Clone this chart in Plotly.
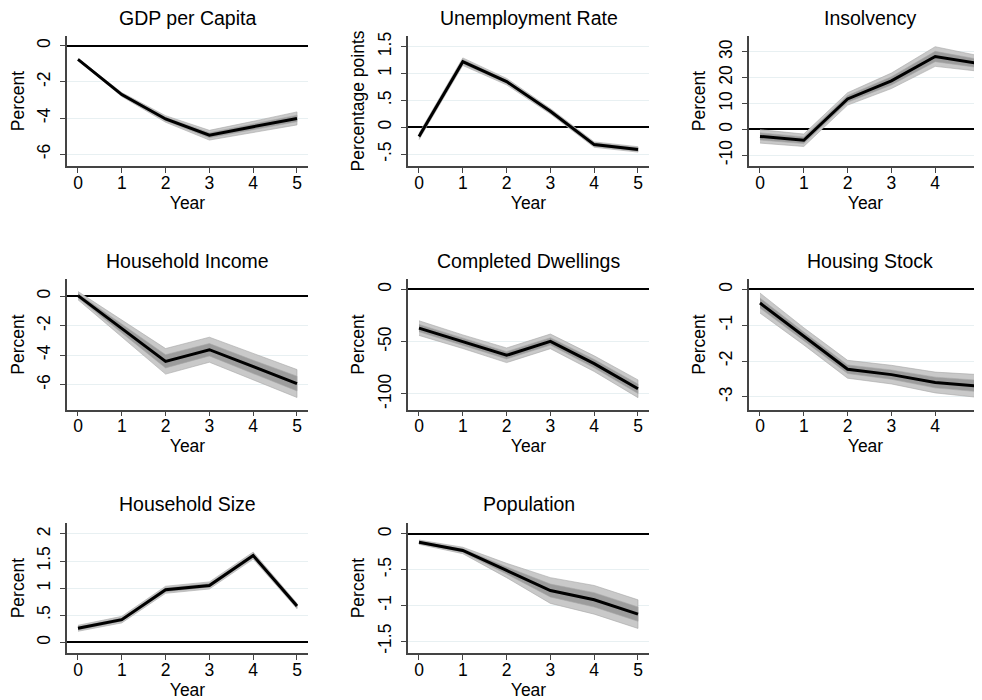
import plotly.graph_objects as go

# the page puts the figure 8 px in, so this size fills the window
W, H = 974, 692
FONT = "Liberation Sans, Arial, sans-serif"

years = [0, 1, 2, 3, 4, 5]

# point estimates and half-widths of the inner / outer confidence bands
gdp_mean = [-0.75, -2.70, -4.05, -4.95, -4.48, -4.02]
gdp_in = [0.03, 0.06, 0.10, 0.14, 0.15, 0.18]
gdp_out = [0.05, 0.11, 0.18, 0.27, 0.30, 0.36]

unemp_mean = [-0.17, 1.22, 0.85, 0.30, -0.32, -0.41]
unemp_in = [0.03, 0.04, 0.03, 0.03, 0.03, 0.03]
unemp_out = [0.06, 0.07, 0.06, 0.05, 0.05, 0.05]

insol_mean = [-2.7, -4.2, 11.8, 18.8, 28.2, 25.5]
insol_in = [1.4, 1.3, 1.3, 1.6, 2.0, 1.6]
insol_out = [2.6, 2.4, 2.4, 3.0, 3.8, 3.0]

hhinc_mean = [0.05, -2.20, -4.42, -3.63, -4.80, -5.93]
hhinc_in = [0.15, 0.30, 0.45, 0.42, 0.45, 0.50]
hhinc_out = [0.28, 0.58, 0.87, 0.85, 0.90, 0.95]

dwell_mean = [-37, -50, -63, -49.7, -71, -95]
dwell_in = [3.5, 3.5, 3.5, 3.5, 4.0, 4.5]
dwell_out = [7.0, 6.5, 7.0, 7.0, 7.5, 8.5]

stock_mean = [-0.38, -1.31, -2.23, -2.38, -2.60, -2.70]
stock_in = [0.14, 0.12, 0.12, 0.13, 0.15, 0.16]
stock_out = [0.28, 0.24, 0.25, 0.26, 0.29, 0.32]

hhsize_mean = [0.26, 0.42, 0.97, 1.05, 1.60, 0.67]
hhsize_in = [0.03, 0.03, 0.035, 0.035, 0.035, 0.03]
hhsize_out = [0.055, 0.06, 0.065, 0.065, 0.065, 0.05]

pop_mean = [-0.115, -0.23, -0.51, -0.79, -0.92, -1.12]
pop_in = [0.015, 0.025, 0.05, 0.09, 0.10, 0.10]
pop_out = [0.03, 0.045, 0.10, 0.18, 0.20, 0.20]

titles = ["GDP per Capita", "Unemployment Rate", "Insolvency",
          "Household Income", "Completed Dwellings", "Housing Stock",
          "Household Size", "Population"]
ylabels = ["Percent", "Percentage points", "Percent",
           "Percent", "Percent", "Percent",
           "Percent", "Percent"]

gdp_ticks = [-6, -4, -2, 0]
gdp_tick_text = ["-6", "-4", "-2", "0"]
unemp_ticks = [-0.5, 0, 0.5, 1, 1.5]
unemp_tick_text = ["-.5", "0", ".5", "1", "1.5"]
insol_ticks = [-10, 0, 10, 20, 30]
insol_tick_text = ["-10", "0", "10", "20", "30"]
hhinc_ticks = [-6, -4, -2, 0]
hhinc_tick_text = ["-6", "-4", "-2", "0"]
dwell_ticks = [-100, -50, 0]
dwell_tick_text = ["-100", "-50", "0"]
stock_ticks = [-3, -2, -1, 0]
stock_tick_text = ["-3", "-2", "-1", "0"]
hhsize_ticks = [0, 0.5, 1, 1.5, 2]
hhsize_tick_text = ["0", ".5", "1", "1.5", "2"]
pop_ticks = [-1.5, -1, -0.5, 0]
pop_tick_text = ["-1.5", "-1", "-.5", "0"]

panels = [
    (gdp_mean, gdp_in, gdp_out, gdp_ticks, gdp_tick_text, [-6.66, 0.55]),
    (unemp_mean, unemp_in, unemp_out, unemp_ticks, unemp_tick_text, [-0.72, 1.70]),
    (insol_mean, insol_in, insol_out, insol_ticks, insol_tick_text, [-14.2, 36.2]),
    (hhinc_mean, hhinc_in, hhinc_out, hhinc_ticks, hhinc_tick_text, [-7.71, 1.15]),
    (dwell_mean, dwell_in, dwell_out, dwell_ticks, dwell_tick_text, [-115, 9.5]),
    (stock_mean, stock_in, stock_out, stock_ticks, stock_tick_text, [-3.36, 0.28]),
    (hhsize_mean, hhsize_in, hhsize_out, hhsize_ticks, hhsize_tick_text, [-0.2, 2.2]),
    (pop_mean, pop_in, pop_out, pop_ticks, pop_tick_text, [-1.667, 0.153]),
]

# panel frames in pixels of the figure div; the last column runs off the edge
col_px = [(59, 300), (400, 641), (741, 974)]
row_px = [(24, 155), (269, 400), (514, 645)]
title_px = [6, 250, 495]


def band(x, mean, hw, color, ax):
    up = [m + h for m, h in zip(mean, hw)]
    lo = [m - h for m, h in zip(mean, hw)]
    return go.Scatter(x=x + x[::-1], y=up + lo[::-1], fill="toself",
                      fillcolor=color, line=dict(color="#a8a8a8", width=0.6),
                      mode="lines", hoverinfo="skip", showlegend=False,
                      xaxis="x" + ax, yaxis="y" + ax)


fig = go.Figure()
layout = {}
annotations = []

for i, (mean, hw_in, hw_out, ticks, tick_text, yr) in enumerate(panels):
    r, c = i // 3, i % 3
    ax = "" if i == 0 else str(i + 1)
    l_px, r_px = col_px[c]
    t_px, b_px = row_px[r]

    fig.add_trace(band(years, mean, hw_out, "#c9c9c9", ax))
    fig.add_trace(band(years, mean, hw_in, "#9c9c9c", ax))
    fig.add_trace(go.Scatter(x=years, y=mean, mode="lines",
                             line=dict(color="black", width=3),
                             showlegend=False, xaxis="x" + ax, yaxis="y" + ax))

    # 0 sits 11 px right of the y axis, 43.8 px per year
    xr = [-0.251, -0.251 + (r_px - l_px) / 43.8]
    layout["xaxis" + ax] = dict(
        domain=[l_px / W, r_px / W], anchor="y" + ax, range=xr,
        tickvals=years, ticks="outside", ticklen=5, tickwidth=1.3,
        tickcolor="#444", showline=True, linecolor="#444", linewidth=1.5,
        showgrid=False, zeroline=False,
        tickfont=dict(size=17.5, color="black"), ticklabelstandoff=-5,
        title=dict(text="Year", font=dict(size=17.5, color="black"), standoff=0),
    )
    layout["yaxis" + ax] = dict(
        domain=[1 - b_px / H, 1 - t_px / H], anchor="x" + ax, range=yr,
        tickvals=ticks, ticktext=tick_text, tickangle=-90,
        ticks="outside", ticklen=5, tickwidth=1.3, tickcolor="#444",
        showline=True, linecolor="#444", linewidth=1.5,
        showgrid=True, gridcolor="#e8f0f2", gridwidth=1,
        zeroline=True, zerolinecolor="black", zerolinewidth=1.5,
        tickfont=dict(size=17.5, color="black"), ticklabelstandoff=3,
        title=dict(text=ylabels[i], font=dict(size=17.5, color="black"), standoff=6),
    )
    cx = l_px + 120.5
    annotations.append(dict(
        text=titles[i], x=cx / W, y=1 - title_px[r] / H, xref="paper",
        yref="paper", showarrow=False, xanchor="center", yanchor="middle",
        font=dict(size=19.5, color="black"),
    ))

fig.update_layout(
    width=W, height=H,
    margin=dict(l=0, r=0, t=0, b=0),
    paper_bgcolor="white", plot_bgcolor="white",
    font=dict(family=FONT, color="black"),
    annotations=annotations,
    **layout,
)

fig.write_html("out.html")
